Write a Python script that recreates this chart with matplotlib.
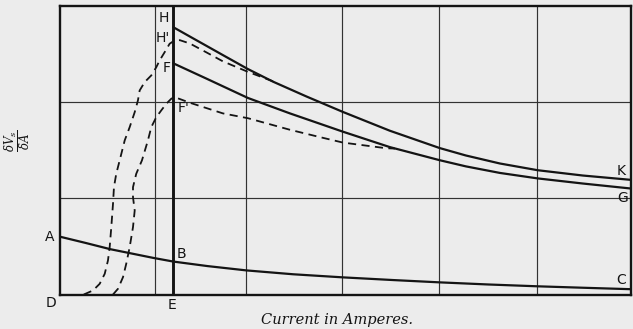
import matplotlib
matplotlib.use("Agg")
import matplotlib.pyplot as plt

# Grid positions (current axis) and frame extent
x_max, y_max = 6.0, 3.0
x_grid = [1.0, 1.95, 2.96, 3.98, 5.01]
y_grid = [1.0, 2.0]
x_E = 1.185

# Curve A-B-C
abc_x = [0.0, 0.27, 0.53, 0.78, 0.98, 1.19, 1.55, 1.96, 2.45, 2.97, 3.5, 3.99, 4.5, 5.02, 5.5, 6.0]
abc_y = [0.60, 0.535, 0.47, 0.42, 0.38, 0.342, 0.295, 0.25, 0.21, 0.178, 0.15, 0.126, 0.104, 0.085, 0.07, 0.055]

# Curve H-K
hk_x = [1.19, 1.366, 1.541, 1.712, 1.975, 2.237, 2.591, 2.973, 3.466, 3.99, 4.265, 4.622, 5.02, 5.494, 6.0]
hk_y = [2.775, 2.677, 2.58, 2.485, 2.34, 2.21, 2.055, 1.895, 1.70, 1.52, 1.443, 1.36, 1.29, 1.235, 1.19]

# Curve F-G
fg_x = [1.19, 1.541, 1.975, 2.416, 2.973, 3.466, 3.99, 4.265, 4.622, 5.02, 5.494, 6.0]
fg_y = [2.40, 2.24, 2.04, 1.88, 1.69, 1.53, 1.394, 1.33, 1.262, 1.205, 1.152, 1.10]

# Dashed curve rising to H' and running into H-K
hd_x = [0.25, 0.347, 0.417, 0.47, 0.504, 0.522, 0.539, 0.557, 0.567, 0.591, 0.627, 0.68,
        0.732, 0.785, 0.819, 0.837, 0.89, 0.959, 1.012, 1.047, 1.10, 1.152, 1.205, 1.26,
        1.366, 1.541, 1.712, 1.975, 2.26]
hd_y = [0.0, 0.042, 0.111, 0.215, 0.353, 0.491, 0.699, 0.942, 1.114, 1.253, 1.392, 1.60,
        1.737, 1.893, 2.015, 2.118, 2.205, 2.274, 2.36, 2.43, 2.516, 2.603, 2.638, 2.64,
        2.605, 2.512, 2.42, 2.311, 2.205]

# Dashed curve rising to F' and running into F-G
fd_x = [0.557, 0.609, 0.662, 0.696, 0.732, 0.767, 0.785, 0.767, 0.767, 0.801, 0.861, 0.924,
        0.959, 1.012, 1.064, 1.117, 1.169, 1.205, 1.366, 1.712, 1.975, 2.416, 2.73, 2.973,
        3.43, 3.52]
fd_y = [0.0, 0.059, 0.18, 0.319, 0.491, 0.699, 0.872, 1.01, 1.114, 1.253, 1.392, 1.60,
        1.737, 1.841, 1.911, 1.98, 2.032, 2.049, 1.99, 1.88, 1.83, 1.71, 1.634, 1.577,
        1.518, 1.515]

ink = "#141414"
paper = "#ececec"

plt.rcParams["mathtext.fontset"] = "dejavuserif"

fig = plt.figure(figsize=(6.33, 3.29), dpi=100, facecolor=paper)
ax = fig.add_axes([60 / 633, (329 - 294.5) / 329, 571 / 633, 289 / 329])
ax.set_facecolor(paper)
ax.set_xlim(0, x_max)
ax.set_ylim(0, y_max)
ax.set_xticks([])
ax.set_yticks([])
for s in ax.spines.values():
    s.set_linewidth(1.7)
    s.set_color(ink)

for gx in x_grid:
    ax.axvline(gx, color="#333333", lw=0.85)
for gy in y_grid:
    ax.axhline(gy, color="#333333", lw=0.85)
ax.axvline(x_E, color=ink, lw=2.1)

solid = dict(color=ink, lw=1.6, solid_capstyle="round", solid_joinstyle="round")
ax.plot(abc_x, abc_y, **solid)
ax.plot(hk_x, hk_y, **solid)
ax.plot(fg_x, fg_y, **solid)

dash = dict(color=ink, lw=1.3, dashes=(4.5, 3.0))
ax.plot(hd_x, hd_y, **dash)
ax.plot(fd_x, fd_y, **dash)

lab = dict(fontsize=10, color=ink, family="DejaVu Sans", ha="center", va="center",
           clip_on=False)
ax.text(-0.105, 0.597, "A", **lab)
ax.text(1.28, 0.42, "B", **lab)
ax.text(5.90, 0.15, "C", **lab)
ax.text(-0.095, -0.088, "D", **lab)
ax.text(1.176, -0.104, "E", **lab)
ax.text(5.91, 1.0, "G", **lab)
ax.text(5.90, 1.285, "K", **lab)
ax.text(1.09, 2.87, "H", **lab)
ax.text(1.08, 2.66, "H'", **lab)
ax.text(1.124, 2.35, "F", **lab)
ax.text(1.30, 1.935, "F'", **lab)

fig.text(337 / 633, 1 - 320 / 329, "Current in Amperes.", family="DejaVu Serif",
         style="italic", fontsize=10.5, color=ink, ha="center", va="center")

fig.text(17 / 633, 1 - 141 / 329, r"$\dfrac{\delta V_s}{\delta A}$", fontsize=8.5,
         color=ink, rotation=90, ha="center", va="center")

fig.savefig("out.png", dpi=100, facecolor=paper)
